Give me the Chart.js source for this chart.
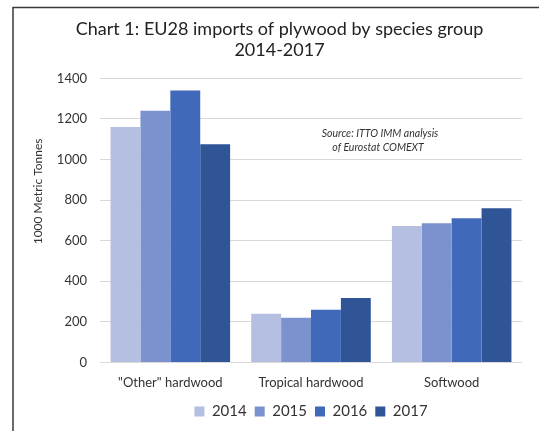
<!DOCTYPE html>
<html>
<head>
<meta charset="utf-8">
<script src="https://cdn.jsdelivr.net/npm/chart.js@4"></script>
<style>
  html, body { margin: 0; padding: 0; background: #fff; }
  #wrap { width: 539px; height: 431px; position: relative; }
</style>
</head>
<body>
<div id="wrap"><canvas id="chart"></canvas></div>
<script>
// species groups and yearly imports (1000 t)
const categories = ['"Other" hardwood', 'Tropical hardwood', 'Softwood'];
const years = ['2014', '2015', '2016', '2017'];
const imports2014 = [1160, 240, 672];
const imports2015 = [1240, 220, 686];
const imports2016 = [1340, 260, 710];
const imports2017 = [1075, 318, 760];
const yTicks = [0, 200, 400, 600, 800, 1000, 1200, 1400];

const colors = ['#b4bfe1', '#7b92cf', '#4169b9', '#2f5597'];
const series = [imports2014, imports2015, imports2016, imports2017];

const FONT = 'Lato, "Open Sans", sans-serif';

// outer frame, y-axis caption and source note
const extras = {
    id: 'extras',
    afterDraw(chart) {
        const ctx = chart.ctx;
        ctx.save();
        ctx.strokeStyle = '#3a3a3a';
        ctx.lineWidth = 1.5;
        ctx.beginPath();
        ctx.moveTo(13, 431);
        ctx.lineTo(13, 7.5);
        ctx.lineTo(539, 7.5);
        ctx.stroke();

        ctx.fillStyle = '#333';
        ctx.textAlign = 'center';
        ctx.textBaseline = 'middle';

        // caption sits a bit above the middle of the plot
        ctx.save();
        ctx.translate(38, chart.chartArea.top + 113);
        ctx.rotate(-Math.PI / 2);
        ctx.font = '12px ' + FONT;
        ctx.fillText('1000 Metric Tonnes', 0, 0);
        ctx.restore();

        ctx.font = 'italic 10.5px ' + FONT;
        ctx.fillText('Source: ITTO IMM analysis', 380, 134);
        ctx.fillText('of Eurostat COMEXT', 378, 148);
        ctx.restore();
    }
};

new Chart(document.getElementById('chart'), {
    type: 'bar',
    data: {
        labels: categories,
        datasets: years.map((y, i) => ({
            label: y,
            data: series[i],
            backgroundColor: colors[i],
            borderWidth: 0
        }))
    },
    options: {
        responsive: true,
        maintainAspectRatio: false,
        animation: false,
        layout: { padding: { left: 37, right: 17, top: 10, bottom: 2 } },
        datasets: { bar: { categoryPercentage: 0.85, barPercentage: 1 } },
        plugins: {
            title: {
                display: true,
                text: ['Chart 1: EU28 imports of plywood by species group', '2014-2017'],
                color: '#222',
                font: { family: FONT, size: 18, weight: 'normal', lineHeight: 1.15 },
                padding: { top: 9, bottom: 18 }
            },
            legend: {
                position: 'bottom',
                fullSize: false,
                labels: {
                    boxWidth: 10,
                    boxHeight: 10,
                    padding: 8,
                    color: '#333',
                    font: { family: FONT, size: 15 }
                }
            },
            tooltip: { enabled: false }
        },
        scales: {
            x: {
                grid: { display: false },
                border: { display: false },
                ticks: { color: '#333', font: { family: FONT, size: 13 }, padding: 5 }
            },
            y: {
                min: 0,
                max: 1400,
                afterBuildTicks(scale) {
                    scale.ticks = yTicks.map(v => ({ value: v }));
                },
                afterFit(scale) { scale.width = 63; },
                grid: { color: '#d9d9d9', drawTicks: false },
                border: { display: false },
                ticks: {
                    color: '#333',
                    font: { family: FONT, size: 13 },
                    padding: 13,
                    callback: v => String(v)
                }
            }
        }
    },
    plugins: [extras]
});
</script>
</body>
</html>
